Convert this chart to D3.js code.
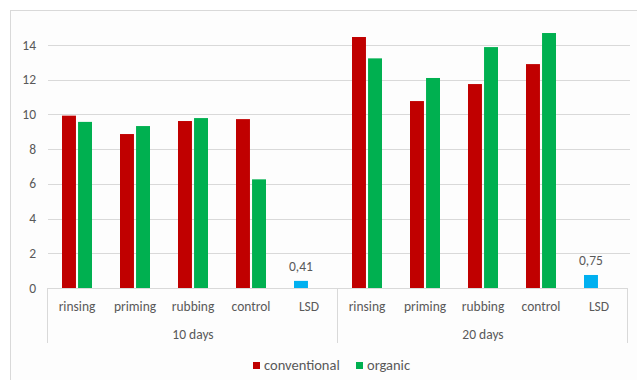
<!DOCTYPE html>
<html>
<head>
<meta charset="utf-8">
<script src="https://cdn.jsdelivr.net/npm/d3@7"></script>
<style>
  body { margin: 0; background: #fff; }
  text { font-family: Carlito, Lato, "Open Sans", sans-serif; fill: #595959; }
</style>
</head>
<body>
<svg id="chart"></svg>
<script>
var groups = ['10 days', '20 days'];
var treatments = ['rinsing', 'priming', 'rubbing', 'control'];
var conventional10 = [9.93, 8.87, 9.62, 9.73];
var organic10 = [9.57, 9.33, 9.79, 6.26];
var conventional20 = [14.46, 10.77, 11.75, 12.9];
var organic20 = [13.23, 12.1, 13.88, 14.69];
var lsd = [0.41, 0.75];
var lsdLabels = ['0,41', '0,75'];
var yTicks = [0, 2, 4, 6, 8, 10, 12, 14];

var width = 637, height = 380;
var margin = { top: 45, left: 48, right: 9, bottom: 92 };
var colors = { conventional: '#c00000', organic: '#00b050', lsd: '#00b0f0' };

// flat list of categories: 4 treatments + LSD per group
var cats = [];
groups.forEach(function (g, gi) {
  var conv = gi === 0 ? conventional10 : conventional20;
  var org = gi === 0 ? organic10 : organic20;
  treatments.forEach(function (t, ti) {
    cats.push({ key: g + '|' + t, label: t, group: gi, conventional: conv[ti], organic: org[ti] });
  });
  cats.push({ key: g + '|LSD', label: 'LSD', group: gi, lsd: lsd[gi], lsdLabel: lsdLabels[gi] });
});

var svg = d3.select('#chart').attr('width', width).attr('height', height);

svg.append('rect')
  .attr('x', 0).attr('y', 0).attr('width', width).attr('height', height)
  .attr('fill', '#ffffff');
svg.append('rect')
  .attr('x', 10.5).attr('y', 10.5).attr('width', width).attr('height', height)
  .attr('fill', '#fdfdfd').attr('stroke', '#d9d9d9');

var x = d3.scaleBand()
  .domain(cats.map(function (d) { return d.key; }))
  .range([margin.left, width - margin.right]);

var y = d3.scaleLinear()
  .domain([0, 14])
  .range([288, margin.top]);

var xs = d3.scaleBand()
  .domain(['conventional', 'organic'])
  .range([x.bandwidth() / 2 - 15, x.bandwidth() / 2 + 15])
  .paddingInner(0.13);

// gridlines
svg.append('g').selectAll('line')
  .data(yTicks.slice(1))
  .enter().append('line')
  .attr('x1', margin.left).attr('x2', width - margin.right + 2)
  .attr('y1', function (d) { return Math.round(y(d)) + 0.5; })
  .attr('y2', function (d) { return Math.round(y(d)) + 0.5; })
  .attr('stroke', '#d9d9d9').attr('stroke-width', 1);

// y axis labels
svg.append('g').selectAll('text')
  .data(yTicks)
  .enter().append('text')
  .attr('x', 36)
  .attr('y', function (d) { return y(d) + 4.5; })
  .attr('text-anchor', 'end')
  .attr('font-size', 13.5)
  .text(function (d) { return d; });

// bars
var catG = svg.append('g').selectAll('g')
  .data(cats)
  .enter().append('g')
  .attr('transform', function (d) { return 'translate(' + x(d.key) + ',0)'; });

['conventional', 'organic'].forEach(function (s) {
  catG.filter(function (d) { return d[s] != null; })
    .append('rect')
    .attr('x', xs(s))
    .attr('width', xs.bandwidth())
    .attr('y', function (d) { return y(d[s]); })
    .attr('height', function (d) { return y(0) - y(d[s]); })
    .attr('fill', colors[s]);
});

var lsdG = catG.filter(function (d) { return d.lsd != null; });
lsdG.append('rect')
  .attr('x', xs('conventional'))
  .attr('width', xs.bandwidth())
  .attr('y', function (d) { return y(d.lsd); })
  .attr('height', function (d) { return y(0) - y(d.lsd); })
  .attr('fill', colors.lsd);
lsdG.append('text')
  .attr('x', xs('conventional') + xs.bandwidth() / 2)
  .attr('y', function (d) { return y(d.lsd) - 10; })
  .attr('text-anchor', 'middle')
  .attr('font-size', 13.5)
  .text(function (d) { return d.lsdLabel; });

// x axis line and group separators
svg.append('line')
  .attr('x1', margin.left).attr('x2', width - margin.right)
  .attr('y1', 288.5).attr('y2', 288.5)
  .attr('stroke', '#d9d9d9');

var groupW = x.step() * 5;
svg.append('g').selectAll('line')
  .data([0, 1, 2])
  .enter().append('line')
  .attr('x1', function (d) { return Math.round(margin.left + d * groupW) - 0.5; })
  .attr('x2', function (d) { return Math.round(margin.left + d * groupW) - 0.5; })
  .attr('y1', 288).attr('y2', 343)
  .attr('stroke', '#d9d9d9');

// category labels
catG.append('text')
  .attr('x', x.bandwidth() / 2)
  .attr('y', 311)
  .attr('text-anchor', 'middle')
  .attr('font-size', 13.5)
  .text(function (d) { return d.label; });

// group labels
svg.append('g').selectAll('text')
  .data(groups)
  .enter().append('text')
  .attr('x', function (d, i) { return margin.left + groupW * (i + 0.5); })
  .attr('y', 339)
  .attr('text-anchor', 'middle')
  .attr('font-size', 13.5)
  .text(function (d) { return d; });

// legend
var legend = [
  { name: 'conventional', color: colors.conventional, x: 253 },
  { name: 'organic', color: colors.organic, x: 356 }
];
var lg = svg.append('g').selectAll('g')
  .data(legend)
  .enter().append('g')
  .attr('transform', function (d) { return 'translate(' + d.x + ',362)'; });
lg.append('rect')
  .attr('width', 7).attr('height', 7)
  .attr('fill', function (d) { return d.color; });
lg.append('text')
  .attr('x', 11).attr('y', 8)
  .attr('font-size', 14.5)
  .text(function (d) { return d.name; });
</script>
</body>
</html>
